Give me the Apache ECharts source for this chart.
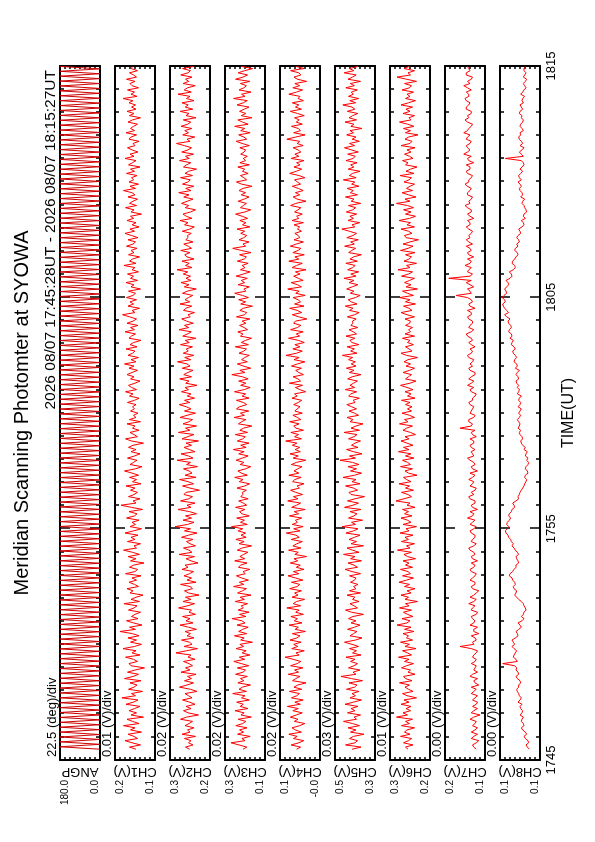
<!DOCTYPE html>
<html><head><meta charset="utf-8">
<script src="https://cdn.jsdelivr.net/npm/echarts@6/dist/echarts.min.js"></script>
<style>
html,body{margin:0;padding:0;background:#fff;overflow:hidden;width:595px;height:842px;}
#wrap{position:absolute;left:0;top:0;width:842px;height:595px;transform-origin:0 0;transform:translate(0px,842px) rotate(-90deg);background:#fff;}
</style></head><body>
<div id="wrap"></div>
<script>
// ---- text / labels ----
const chartTitle = 'Meridian Scanning Photomter at SYOWA';
const dateRange = '2026 08/07 17:45:28UT - 2026 08/07 18:15:27UT';
const panelNames = ['ANGP','CH1(V)','CH2(V)','CH3(V)','CH4(V)','CH5(V)','CH6(V)','CH7(V)','CH8(V)'];
const divLabels = ['22.5 (deg)/div','0.01 (V)/div','0.02 (V)/div','0.02 (V)/div','0.02 (V)/div','0.03 (V)/div','0.01 (V)/div','0.00 (V)/div','0.00 (V)/div'];
const topLabels = ['180.0','0.2','0.3','0.3','0.1','0.5','0.3','0.2','0.1'];
const bottomLabels = ['0.0','0.1','0.2','0.1','-0.0','0.3','0.2','0.1','0.1'];
const axisMin = [0, 0.12, 0.17, 0.14, -0.01, 0.28, 0.21, 0.12, 0.10];
const axisMax = [180, 0.20, 0.33, 0.28, 0.13, 0.52, 0.29, 0.152, 0.13];
const timeLabels = ['1745','1755','1805','1815'];
const timeAxisName = 'TIME(UT)';
// sampling window: seconds after 17:45:00
const startSec = 28, endSec = 1799;

// ---- series values ----
const angp = [
0,180,0,180,0,180,0,180,0,180, 0,180,0,180,0,180,0,180,0,180,
0,180,0,180,0,180,0,180,0,180, 0,180,0,180,0,180,0,180,0,180,
0,180,0,180,0,180,0,180,0,180, 0,180,0,180,0,180,0,180,0,180,
0,180,0,180,0,180,0,180,0,180, 0,180,0,180,0,180,0,180,0,180,
0,180,0,180,0,180,0,180,0,180, 0,180,0,180,0,180,0,180,0,180,
0,180,0,180,0,180,0,180,0,180, 0,180,0,180,0,180,0,180,0,180,
0,180,0,180,0,180,0,180,0,180, 0,180,0,180,0,180,0,180,0,180,
0,180,0,180,0,180,0,180,0,180, 0,180,0,180,0,180,0,180,0,180,
0,180,0,180,0,180,0,180,0,180, 0,180,0,180,0,180,0,180,0,180,
0,180,0,180,0,180,0,180,0,180, 0,180,0,180,0,180,0,180,0,180,
0,180,0,180,0,180,0,180,0,180, 0,180,0,180,0,180,0,180,0,180,
0,180,0,180,0,180,0,180,0,180, 0,180,0,180,0,180,0,180,0,180,
0,180,0,180,0,180,0,180,0,180, 0,180,0,180,0,180,0,180,0,180,
0,180,0,180,0,180,0,180,0,180, 0,180,0,180,0,180,0,180,0,180];
const ch1 = [
0.158,0.171,0.149,0.166,0.180,0.155,0.162,0.174,0.147,0.169,
0.160,0.183,0.152,0.165,0.176,0.143,0.168,0.157,0.172,0.161,
0.150,0.178,0.163,0.154,0.186,0.159,0.167,0.145,0.173,0.162,
0.156,0.170,0.148,0.181,0.164,0.153,0.175,0.160,0.141,0.168,
0.172,0.155,0.163,0.179,0.150,0.166,0.158,0.184,0.161,0.147,
0.169,0.157,0.174,0.152,0.165,0.190,0.159,0.171,0.146,0.163,
0.177,0.154,0.167,0.160,0.149,0.173,0.162,0.156,0.182,0.151,
0.168,0.158,0.144,0.170,0.164,0.176,0.153,0.161,0.172,0.157,
0.166,0.148,0.179,0.160,0.155,0.171,0.163,0.142,0.169,0.158,
0.174,0.151,0.165,0.183,0.157,0.162,0.149,0.175,0.160,0.168,
0.154,0.180,0.163,0.147,0.170,0.159,0.166,0.152,0.177,0.161,
0.156,0.172,0.145,0.167,0.188,0.158,0.164,0.150,0.173,0.162,
0.155,0.169,0.160,0.178,0.148,0.165,0.157,0.171,0.153,0.166,
0.181,0.159,0.146,0.170,0.163,0.156,0.175,0.161,0.150,0.168,
0.158,0.173,0.164,0.143,0.167,0.179,0.155,0.162,0.170,0.152,
0.165,0.160,0.176,0.149,0.171,0.158,0.163,0.154,0.169,0.161,
0.165,0.158,0.175,0.161,0.152,0.171,0.164,0.179,0.157,0.167,
0.173,0.160,0.150,0.169,0.162,0.176,0.166,0.155,0.172,0.162,
0.181,0.158,0.168,0.153,0.174,0.165,0.160,0.178,0.156,0.170,
0.163,0.148,0.172,0.167,0.159,0.180,0.161,0.169,0.154,0.176,
0.164,0.157,0.171,0.185,0.160,0.166,0.151,0.174,0.163,0.170,
0.157,0.177,0.164,0.159,0.173,0.149,0.168,0.162,0.178,0.155,
0.169,0.163,0.175,0.153,0.166,0.160,0.182,0.158,0.171,0.165,
0.151,0.173,0.162,0.168,0.156,0.177,0.164,0.159,0.174,0.154,
0.167,0.180,0.161,0.170,0.152,0.166,0.158,0.176,0.163,0.169,
0.147,0.168,0.162,0.179,0.157,0.171,0.164,0.155,0.174,0.160,
0.166,0.183,0.159,0.170,0.153,0.172,0.163,0.167,0.156,0.177,
0.161,0.169,0.150,0.173,0.165,0.158,0.180,0.162,0.170,0.154,
0.166,0.175,0.160,0.164,0.152,0.172,0.168,0.157,0.178,0.161,
0.169,0.163,0.155,0.174,0.165,0.149,0.171,0.162,0.176,0.158,
0.167,0.159,0.172,0.164,0.184,0.156,0.168,0.161,0.175,0.153,
0.166,0.170,0.160,0.177,0.157,0.163,0.171,0.155,0.168,0.164];
const ch2 = [
0.252,0.268,0.238,0.256,0.246,0.272,0.228,0.282,0.250,0.260,
0.234,0.270,0.254,0.240,0.288,0.264,0.216,0.258,0.276,0.246,
0.266,0.230,0.252,0.280,0.242,0.256,0.270,0.222,0.248,0.292,
0.262,0.236,0.272,0.244,0.260,0.226,0.286,0.250,0.268,0.240,
0.254,0.276,0.230,0.258,0.246,0.306,0.264,0.220,0.274,0.242,
0.252,0.284,0.234,0.262,0.248,0.270,0.224,0.256,0.290,0.238,
0.266,0.250,0.280,0.228,0.254,0.244,0.296,0.260,0.232,0.278,
0.246,0.268,0.214,0.256,0.272,0.240,0.250,0.288,0.226,0.262,
0.244,0.274,0.252,0.236,0.282,0.258,0.270,0.218,0.246,0.266,
0.232,0.294,0.242,0.254,0.276,0.228,0.250,0.264,0.238,0.284,
0.256,0.222,0.272,0.248,0.310,0.260,0.234,0.278,0.244,0.268,
0.224,0.252,0.298,0.246,0.262,0.230,0.288,0.256,0.240,0.274,
0.266,0.212,0.250,0.280,0.236,0.258,0.292,0.226,0.270,0.242,
0.254,0.276,0.220,0.264,0.248,0.302,0.238,0.256,0.286,0.230,
0.252,0.274,0.244,0.266,0.216,0.282,0.260,0.234,0.296,0.250,
0.268,0.224,0.278,0.254,0.240,0.290,0.262,0.228,0.272,0.246,
0.265,0.293,0.251,0.272,0.232,0.261,0.246,0.284,0.256,0.270,
0.222,0.267,0.254,0.291,0.244,0.275,0.259,0.238,0.281,0.250,
0.262,0.300,0.247,0.271,0.235,0.277,0.257,0.265,0.240,0.288,
0.253,0.269,0.227,0.279,0.260,0.245,0.294,0.255,0.272,0.237,
0.264,0.283,0.249,0.258,0.232,0.276,0.267,0.243,0.290,0.251,
0.270,0.256,0.239,0.280,0.261,0.225,0.273,0.254,0.286,0.246,
0.266,0.248,0.277,0.259,0.302,0.242,0.268,0.253,0.282,0.234,
0.262,0.271,0.250,0.287,0.244,0.257,0.275,0.238,0.267,0.258,
0.260,0.245,0.281,0.251,0.233,0.272,0.258,0.290,0.242,0.265,
0.278,0.248,0.228,0.269,0.255,0.284,0.261,0.238,0.275,0.254,
0.295,0.246,0.267,0.235,0.280,0.259,0.249,0.288,0.240,0.270,
0.256,0.224,0.276,0.264,0.247,0.292,0.253,0.268,0.236,0.283,
0.258,0.244,0.273,0.304,0.250,0.262,0.231,0.279,0.256,0.271,
0.243,0.286,0.259,0.247,0.277,0.226,0.266,0.254,0.289,0.239,
0.269,0.257,0.282,0.234,0.264,0.250,0.298,0.245,0.273,0.260,
0.229,0.278,0.255,0.268,0.242,0.287,0.258,0.248,0.280,0.236];
const ch3 = [
0.217,0.204,0.231,0.259,0.210,0.221,0.192,0.236,0.215,0.229,
0.203,0.242,0.218,0.207,0.234,0.188,0.224,0.213,0.245,0.200,
0.227,0.216,0.239,0.195,0.222,0.210,0.253,0.205,0.231,0.219,
0.191,0.235,0.214,0.226,0.202,0.243,0.217,0.208,0.237,0.197,
0.223,0.249,0.211,0.230,0.193,0.220,0.206,0.241,0.215,0.228,
0.184,0.225,0.213,0.247,0.204,0.232,0.218,0.199,0.238,0.210,
0.221,0.255,0.207,0.229,0.196,0.234,0.216,0.223,0.201,0.244,
0.212,0.227,0.189,0.236,0.219,0.205,0.250,0.214,0.230,0.198,
0.222,0.240,0.209,0.217,0.193,0.233,0.225,0.203,0.246,0.211,
0.228,0.215,0.200,0.237,0.220,0.187,0.231,0.213,0.242,0.206,
0.224,0.208,0.234,0.218,0.257,0.202,0.226,0.212,0.239,0.195,
0.221,0.229,0.210,0.243,0.204,0.216,0.232,0.199,0.225,0.217,
0.219,0.205,0.238,0.211,0.194,0.230,0.217,0.246,0.202,0.223,
0.235,0.208,0.190,0.227,0.214,0.241,0.220,0.199,0.232,0.213,
0.251,0.206,0.225,0.196,0.237,0.218,0.209,0.244,0.201,0.228,
0.215,0.186,0.233,0.222,0.207,0.248,0.212,0.226,0.197,0.240,
0.229,0.204,0.216,0.240,0.196,0.220,0.208,0.247,0.213,0.192,
0.225,0.207,0.232,0.199,0.219,0.256,0.210,0.228,0.190,0.216,
0.237,0.202,0.222,0.211,0.195,0.231,0.214,0.205,0.244,0.198,
0.223,0.208,0.187,0.226,0.217,0.235,0.201,0.213,0.229,0.207,
0.220,0.193,0.240,0.211,0.204,0.228,0.216,0.184,0.225,0.208,
0.232,0.198,0.219,0.246,0.207,0.214,0.195,0.234,0.211,0.223,
0.202,0.241,0.216,0.192,0.226,0.210,0.220,0.199,0.237,0.213,
0.205,0.229,0.189,0.222,0.253,0.208,0.217,0.196,0.231,0.214,
0.204,0.225,0.211,0.238,0.193,0.219,0.207,0.228,0.201,0.220,
0.243,0.210,0.190,0.226,0.216,0.205,0.234,0.213,0.196,0.223,
0.208,0.231,0.217,0.186,0.222,0.240,0.204,0.214,0.226,0.199,
0.219,0.211,0.235,0.195,0.228,0.208,0.216,0.202,0.225,0.213,
0.208,0.228,0.195,0.220,0.241,0.204,0.214,0.232,0.192,0.225,
0.211,0.246,0.199,0.219,0.235,0.186,0.223,0.207,0.229,0.213,
0.196,0.238,0.216,0.202,0.250,0.210,0.222,0.189,0.231,0.214,
0.205,0.226,0.193,0.243,0.217,0.201,0.234,0.211,0.183,0.223];
const ch4 = [
0.072,0.058,0.091,0.064,0.047,0.083,0.070,0.099,0.055,0.076,
0.088,0.061,0.043,0.080,0.067,0.094,0.073,0.052,0.085,0.066,
0.104,0.059,0.078,0.049,0.090,0.071,0.062,0.097,0.054,0.081,
0.068,0.039,0.086,0.075,0.060,0.101,0.065,0.079,0.050,0.093,
0.070,0.057,0.084,0.112,0.063,0.074,0.045,0.089,0.068,0.082,
0.056,0.095,0.071,0.060,0.087,0.041,0.077,0.066,0.098,0.053,
0.080,0.069,0.092,0.048,0.075,0.063,0.106,0.058,0.084,0.072,
0.044,0.088,0.067,0.079,0.055,0.096,0.070,0.061,0.090,0.050,
0.076,0.102,0.064,0.083,0.046,0.073,0.059,0.094,0.068,0.081,
0.037,0.078,0.066,0.100,0.057,0.085,0.071,0.052,0.091,0.063,
0.074,0.108,0.060,0.082,0.049,0.087,0.069,0.076,0.054,0.097,
0.065,0.080,0.042,0.089,0.072,0.058,0.103,0.067,0.083,0.051,
0.075,0.093,0.062,0.070,0.046,0.086,0.078,0.056,0.099,0.064,
0.081,0.068,0.053,0.090,0.073,0.040,0.084,0.066,0.095,0.059,
0.077,0.061,0.087,0.071,0.110,0.055,0.079,0.065,0.092,0.048,
0.074,0.082,0.063,0.096,0.057,0.069,0.085,0.052,0.078,0.070,
0.060,0.082,0.066,0.054,0.088,0.070,0.079,0.040,0.061,0.076,
0.051,0.097,0.058,0.067,0.084,0.048,0.064,0.075,0.055,0.090,
0.069,0.043,0.081,0.063,0.109,0.072,0.052,0.085,0.060,0.078,
0.045,0.066,0.100,0.061,0.073,0.049,0.093,0.069,0.057,0.082,
0.076,0.036,0.064,0.087,0.054,0.070,0.096,0.046,0.079,0.058,
0.067,0.084,0.042,0.075,0.063,0.103,0.055,0.069,0.091,0.049,
0.066,0.082,0.060,0.076,0.039,0.088,0.072,0.052,0.099,0.064,
0.078,0.045,0.085,0.067,0.057,0.094,0.073,0.048,0.081,0.061,
0.066,0.078,0.055,0.069,0.061,0.081,0.048,0.088,0.064,0.072,
0.052,0.079,0.067,0.057,0.093,0.075,0.039,0.070,0.084,0.061,
0.076,0.049,0.066,0.087,0.058,0.069,0.079,0.043,0.063,0.096,
0.073,0.054,0.081,0.060,0.072,0.046,0.091,0.064,0.078,0.057,
0.067,0.084,0.049,0.070,0.061,0.106,0.075,0.042,0.082,0.058,
0.066,0.090,0.052,0.073,0.063,0.079,0.045,0.069,0.094,0.055,
0.076,0.064,0.087,0.048,0.067,0.060,0.099,0.072,0.051,0.085,
0.061,0.078,0.037,0.069,0.081,0.057,0.064,0.093,0.046,0.073];
const ch5 = [
0.418,0.364,0.457,0.400,0.385,0.433,0.409,0.346,0.427,0.394,
0.442,0.373,0.415,0.469,0.391,0.406,0.367,0.445,0.400,0.424,
0.382,0.460,0.409,0.361,0.430,0.397,0.418,0.376,0.451,0.403,
0.388,0.436,0.355,0.421,0.484,0.394,0.412,0.370,0.439,0.406,
0.385,0.427,0.400,0.454,0.364,0.415,0.391,0.433,0.379,0.418,
0.463,0.397,0.358,0.430,0.409,0.388,0.445,0.403,0.370,0.424,
0.394,0.439,0.412,0.349,0.421,0.457,0.385,0.406,0.430,0.376,
0.415,0.400,0.448,0.367,0.433,0.394,0.409,0.382,0.427,0.403,
0.394,0.433,0.367,0.418,0.460,0.385,0.406,0.442,0.361,0.427,
0.400,0.469,0.376,0.415,0.448,0.349,0.424,0.391,0.436,0.403,
0.370,0.454,0.409,0.382,0.478,0.397,0.421,0.355,0.439,0.406,
0.388,0.430,0.364,0.463,0.412,0.379,0.445,0.400,0.343,0.424,
0.436,0.385,0.409,0.457,0.370,0.418,0.394,0.472,0.403,0.361,
0.427,0.391,0.442,0.376,0.415,0.490,0.397,0.433,0.358,0.409,
0.451,0.382,0.421,0.400,0.367,0.439,0.406,0.388,0.466,0.373,
0.424,0.394,0.352,0.430,0.412,0.448,0.379,0.403,0.436,0.391,
0.420,0.449,0.399,0.412,0.374,0.438,0.425,0.390,0.458,0.402,
0.430,0.409,0.385,0.444,0.417,0.364,0.434,0.406,0.452,0.394,
0.423,0.398,0.439,0.414,0.476,0.388,0.426,0.404,0.447,0.377,
0.418,0.431,0.401,0.454,0.391,0.410,0.436,0.383,0.425,0.412,
0.415,0.393,0.446,0.402,0.375,0.433,0.412,0.458,0.388,0.422,
0.441,0.398,0.369,0.428,0.407,0.450,0.417,0.383,0.436,0.406,
0.466,0.394,0.425,0.378,0.444,0.414,0.399,0.455,0.386,0.430,
0.409,0.362,0.438,0.420,0.396,0.462,0.404,0.426,0.380,0.449,
0.412,0.391,0.434,0.479,0.401,0.418,0.372,0.442,0.409,0.431,
0.390,0.452,0.414,0.396,0.439,0.366,0.423,0.406,0.457,0.385,
0.428,0.410,0.447,0.377,0.420,0.401,0.470,0.393,0.434,0.415,
0.370,0.441,0.407,0.426,0.388,0.454,0.412,0.398,0.444,0.380,
0.422,0.463,0.402,0.433,0.374,0.417,0.394,0.450,0.409,0.430,
0.359,0.425,0.406,0.460,0.391,0.436,0.414,0.383,0.446,0.401,
0.418,0.473,0.396,0.431,0.378,0.439,0.410,0.422,0.386,0.455,
0.404,0.428,0.367,0.442,0.415,0.393,0.465,0.407,0.433,0.382];
const ch6 = [
0.254,0.259,0.244,0.263,0.253,0.247,0.269,0.250,0.261,0.256,
0.241,0.267,0.251,0.259,0.245,0.277,0.255,0.264,0.249,0.258,
0.248,0.268,0.252,0.262,0.237,0.256,0.265,0.244,0.253,0.260,
0.251,0.271,0.246,0.259,0.263,0.240,0.254,0.249,0.267,0.257,
0.243,0.261,0.252,0.273,0.247,0.255,0.265,0.238,0.260,0.251,
0.269,0.245,0.257,0.253,0.264,0.242,0.261,0.248,0.276,0.256,
0.250,0.266,0.244,0.255,0.263,0.247,0.271,0.252,0.259,0.235,
0.260,0.253,0.268,0.248,0.256,0.240,0.261,0.251,0.272,0.257,
0.243,0.265,0.249,0.254,0.269,0.245,0.259,0.252,0.264,0.239,
0.255,0.262,0.247,0.275,0.250,0.257,0.241,0.267,0.253,0.260,
0.244,0.270,0.252,0.258,0.237,0.264,0.248,0.255,0.268,0.246,
0.261,0.253,0.265,0.240,0.256,0.250,0.278,0.262,0.247,0.254,
0.267,0.243,0.259,0.251,0.272,0.248,0.257,0.263,0.236,0.253,
0.260,0.245,0.269,0.249,0.255,0.265,0.242,0.259,0.248,0.273,
0.252,0.263,0.244,0.256,0.268,0.252,0.260,0.239,0.249,0.264,
0.257,0.245,0.271,0.254,0.261,0.241,0.251,0.266,0.247,0.255,
0.246,0.259,0.250,0.267,0.240,0.255,0.248,0.260,0.244,0.256,
0.269,0.250,0.238,0.259,0.253,0.247,0.264,0.251,0.241,0.258,
0.249,0.262,0.254,0.235,0.257,0.268,0.246,0.252,0.259,0.243,
0.255,0.250,0.265,0.241,0.260,0.249,0.253,0.245,0.259,0.251,
0.249,0.260,0.241,0.256,0.268,0.246,0.252,0.263,0.239,0.259,
0.250,0.271,0.243,0.255,0.265,0.235,0.258,0.248,0.261,0.251,
0.241,0.267,0.253,0.245,0.274,0.250,0.257,0.237,0.262,0.252,
0.247,0.259,0.240,0.269,0.254,0.244,0.264,0.250,0.233,0.258,
0.261,0.246,0.253,0.268,0.241,0.256,0.249,0.272,0.251,0.239,
0.259,0.248,0.263,0.243,0.255,0.277,0.250,0.260,0.238,0.253,
0.266,0.245,0.257,0.250,0.241,0.262,0.252,0.247,0.270,0.242,
0.258,0.249,0.236,0.259,0.254,0.265,0.244,0.251,0.261,0.248,
0.256,0.240,0.268,0.250,0.246,0.260,0.253,0.234,0.259,0.249,
0.263,0.242,0.255,0.271,0.248,0.252,0.241,0.264,0.250,0.258,
0.245,0.268,0.253,0.239,0.259,0.250,0.256,0.243,0.266,0.251,
0.247,0.261,0.237,0.257,0.276,0.249,0.254,0.241,0.262,0.252];
const ch7 = [
0.127,0.129,0.130,0.127,0.125,0.131,0.129,0.126,0.131,0.128,0.126,0.130,0.128,0.127,0.132,0.129,0.124,0.131,0.129,0.126,
0.130,0.127,0.126,0.130,0.128,0.126,0.131,0.129,0.127,0.131,0.125,0.128,0.129,0.126,0.132,0.130,0.126,0.129,0.128,0.127,
0.131,0.128,0.127,0.130,0.129,0.127,0.126,0.131,0.140,0.129,0.130,0.127,0.128,0.131,0.125,0.129,0.129,0.126,0.132,0.129,
0.128,0.130,0.131,0.127,0.126,0.131,0.130,0.128,0.133,0.129,0.127,0.132,0.129,0.127,0.125,0.130,0.131,0.128,0.128,0.132,
0.130,0.128,0.127,0.131,0.132,0.129,0.128,0.131,0.126,0.130,0.131,0.128,0.129,0.132,0.133,0.129,0.127,0.131,0.130,0.128,
0.128,0.131,0.132,0.129,0.127,0.132,0.130,0.128,0.134,0.130,0.129,0.132,0.126,0.130,0.131,0.128,0.128,0.132,0.133,0.129,
0.131,0.128,0.127,0.132,0.130,0.129,0.133,0.130,0.128,0.132,0.126,0.130,0.131,0.128,0.129,0.132,0.134,0.129,0.130,0.131,
0.128,0.131,0.132,0.129,0.129,0.132,0.127,0.130,0.131,0.128,0.140,0.131,0.130,0.133,0.133,0.129,0.128,0.132,0.131,0.130,
0.129,0.132,0.133,0.130,0.130,0.128,0.127,0.131,0.132,0.129,0.134,0.131,0.129,0.133,0.131,0.128,0.128,0.132,0.133,0.130,
0.132,0.130,0.129,0.133,0.134,0.131,0.130,0.132,0.128,0.131,0.133,0.130,0.131,0.134,0.135,0.131,0.129,0.133,0.132,0.130,
0.130,0.133,0.134,0.131,0.131,0.134,0.128,0.132,0.133,0.130,0.131,0.134,0.143,0.131,0.132,0.134,0.129,0.132,0.135,0.131,
0.149,0.132,0.130,0.134,0.133,0.131,0.136,0.132,0.131,0.134,0.129,0.133,0.134,0.131,0.132,0.135,0.130,0.133,0.135,0.132,
0.133,0.131,0.130,0.133,0.135,0.132,0.132,0.134,0.129,0.132,0.134,0.131,0.131,0.134,0.136,0.132,0.133,0.131,0.130,0.134,
0.134,0.132,0.131,0.134,0.136,0.133,0.133,0.131,0.130,0.134,0.135,0.132,0.132,0.135,0.129,0.133,0.134,0.131,0.137,0.134,
0.132,0.134,0.135,0.132,0.131,0.135,0.134,0.132,0.137,0.134,0.133,0.131,0.130,0.134,0.136,0.133,0.134,0.131,0.131,0.135,
0.135,0.133,0.132,0.135,0.136,0.133,0.133,0.135,0.131,0.134,0.137,0.132,0.134,0.131,0.130,0.135,0.135,0.132,0.133,0.134];
const ch8 = [
0.1080,0.1095,0.1105,0.1085,0.1090,0.1110,0.1120,0.1100,0.1110,0.1130,0.1140,0.1120,0.1125,0.1140,0.1135,0.1125,0.1150,0.1135,0.1130,0.1145,
0.1150,0.1135,0.1165,0.1150,0.1140,0.1155,0.1160,0.1170,0.1175,0.1160,0.1160,0.1145,0.1150,0.1170,0.1180,0.1160,0.1165,0.1180,0.1175,0.1190,
0.1280,0.1170,0.1180,0.1200,0.1195,0.1185,0.1175,0.1195,0.1210,0.1190,0.1200,0.1210,0.1185,0.1165,0.1170,0.1180,0.1160,0.1140,0.1150,0.1165,
0.1135,0.1120,0.1140,0.1125,0.1120,0.1105,0.1110,0.1120,0.1125,0.1140,0.1160,0.1175,0.1190,0.1180,0.1175,0.1195,0.1200,0.1185,0.1190,0.1205,
0.1210,0.1230,0.1225,0.1205,0.1195,0.1180,0.1180,0.1160,0.1165,0.1175,0.1180,0.1160,0.1170,0.1185,0.1195,0.1210,0.1200,0.1215,0.1220,0.1235,
0.1240,0.1255,0.1260,0.1245,0.1235,0.1250,0.1245,0.1230,0.1220,0.1235,0.1230,0.1215,0.1210,0.1190,0.1195,0.1205,0.1180,0.1160,0.1165,0.1155,
0.1150,0.1140,0.1130,0.1120,0.1115,0.1105,0.1100,0.1115,0.1110,0.1090,0.1095,0.1110,0.1105,0.1090,0.1085,0.1100,0.1090,0.1110,0.1105,0.1095,
0.1120,0.1110,0.1130,0.1140,0.1145,0.1130,0.1135,0.1150,0.1155,0.1145,0.1165,0.1155,0.1150,0.1160,0.1170,0.1155,0.1145,0.1160,0.1150,0.1140,
0.1165,0.1150,0.1145,0.1160,0.1155,0.1140,0.1170,0.1160,0.1155,0.1170,0.1160,0.1175,0.1180,0.1160,0.1165,0.1180,0.1170,0.1155,0.1185,0.1170,
0.1175,0.1195,0.1190,0.1175,0.1185,0.1200,0.1205,0.1185,0.1195,0.1215,0.1210,0.1200,0.1225,0.1210,0.1215,0.1235,0.1230,0.1215,0.1220,0.1235,
0.1240,0.1225,0.1250,0.1265,0.1235,0.1250,0.1265,0.1275,0.1280,0.1260,0.1265,0.1285,0.1270,0.1250,0.1255,0.1265,0.1250,0.1235,0.1240,0.1255,
0.1225,0.1210,0.1215,0.1230,0.1200,0.1185,0.1190,0.1210,0.1205,0.1190,0.1180,0.1165,0.1170,0.1190,0.1185,0.1165,0.1175,0.1155,0.1160,0.1175,
0.1165,0.1145,0.1150,0.1160,0.1135,0.1120,0.1125,0.1140,0.1110,0.1125,0.1120,0.1100,0.1105,0.1115,0.1120,0.1135,0.1130,0.1115,0.1145,0.1130,
0.1135,0.1150,0.1155,0.1140,0.1150,0.1165,0.1140,0.1155,0.1160,0.1145,0.1130,0.1150,0.1135,0.1120,0.1125,0.1140,0.1260,0.1125,0.1140,0.1155,
0.1135,0.1120,0.1150,0.1130,0.1140,0.1155,0.1160,0.1145,0.1150,0.1125,0.1135,0.1150,0.1145,0.1130,0.1125,0.1140,0.1135,0.1155,0.1150,0.1130,
0.1140,0.1150,0.1125,0.1135,0.1130,0.1115,0.1145,0.1130,0.1120,0.1105,0.1115,0.1125,0.1110,0.1100,0.1125,0.1115,0.1105,0.1120,0.1120,0.1110];
const channels = [angp, ch1, ch2, ch3, ch4, ch5, ch6, ch7, ch8];

// ---- build chart ----
const FONT = "'Liberation Sans', Arial, Helvetica, sans-serif";
const NARROW = "'Liberation Sans Narrow', 'Liberation Sans', Arial, sans-serif";
const grids = [], xAxes = [], yAxes = [], series = [], graphics = [];
const tickStyle = {color:'#000', width:1.5};
const frameStyle = {color:'#000', width:2};
for (let i = 0; i < channels.length; i++) {
  const top = 60 + 55 * i;
  grids.push({left:82, right:66, top:top, height:40});
  const mn = axisMin[i], mx = axisMax[i], iv = (mx - mn) / 8;
  const xBase = {gridIndex:i, type:'value', min:0, max:30, interval:10,
    axisLine:{show:true, onZero:false, lineStyle:frameStyle},
    axisTick:{show:true, inside:true, length:10, lineStyle:tickStyle},
    minorTick:{show:true, splitNumber:10, length:4, lineStyle:tickStyle},
    splitLine:{show:false}, minorSplitLine:{show:false}};
  xAxes.push(Object.assign({}, xBase, {position:'bottom',
    axisLabel:{show:i === channels.length - 1, margin:5, color:'#000', fontSize:13, fontFamily:FONT,
      formatter:v => timeLabels[Math.round(v / 10)]},
    name:i === channels.length - 1 ? timeAxisName : '', nameLocation:'middle', nameGap:21,
    nameMoveOverlap:false,
    nameTextStyle:{color:'#000', fontSize:16, fontFamily:FONT}}));
  xAxes.push(Object.assign({}, xBase, {position:'top', axisLabel:{show:false}}));
  yAxes.push({gridIndex:i, type:'value', position:'left', min:mn, max:mx, interval:iv,
    axisLine:{show:true, onZero:false, lineStyle:frameStyle},
    axisTick:{show:true, inside:true, length:3, lineStyle:tickStyle},
    splitLine:{show:false},
    axisLabel:{show:true, margin:20, color:'#000', fontSize:10, fontFamily:NARROW, verticalAlign:'top',
      formatter:v => Math.abs(v - mx) < iv / 2 ? topLabels[i] : ''},
    name:panelNames[i], nameLocation:'middle', nameRotate:90, nameGap:5, nameMoveOverlap:false,
    nameTextStyle:{color:'#000', fontSize:13, fontFamily:NARROW}});
  yAxes.push({gridIndex:i, type:'value', position:'left', min:mn, max:mx, interval:mx - mn,
    axisLine:{show:false}, axisTick:{show:false}, splitLine:{show:false},
    axisLabel:{show:true, margin:20, color:'#000', fontSize:10, fontFamily:NARROW, verticalAlign:'bottom',
      formatter:v => Math.abs(v - mn) < iv / 2 ? bottomLabels[i] : ''}});
  yAxes.push({gridIndex:i, type:'value', position:'right', min:mn, max:mx, interval:iv,
    axisLine:{show:true, onZero:false, lineStyle:frameStyle},
    axisTick:{show:true, inside:true, length:3, lineStyle:tickStyle},
    splitLine:{show:false}, axisLabel:{show:false}});
  const vals = channels[i], n = vals.length;
  const data = vals.map((v, k) => [(startSec + k * (endSec - startSec) / (n - 1)) / 60, v]);
  series.push({type:'line', xAxisIndex:2 * i, yAxisIndex:3 * i, data:data, showSymbol:false,
    symbol:'none', clip:true, silent:true,
    lineStyle:{color:i === 0 ? '#cc0000' : '#ff0000', width:1}});
  graphics.push({type:'text', x:85, y:top - 1,
    style:{text:divLabels[i], font:'13px ' + FONT, fill:'#000', textAlign:'left', textVerticalAlign:'bottom'}});
}
graphics.push({type:'text', x:429, y:12,
  style:{text:chartTitle, font:'20px ' + FONT, fill:'#000', textAlign:'center', textVerticalAlign:'top'}});
graphics.push({type:'text', x:772, y:59,
  style:{text:dateRange, font:'15.5px ' + FONT, fill:'#000', textAlign:'right', textVerticalAlign:'bottom'}});

const chart = echarts.init(document.getElementById('wrap'), null, {renderer:'canvas', width:842, height:595});
chart.setOption({animation:false, backgroundColor:'#fff', grid:grids, xAxis:xAxes, yAxis:yAxes,
  series:series, graphic:graphics});
</script>
</body></html>
